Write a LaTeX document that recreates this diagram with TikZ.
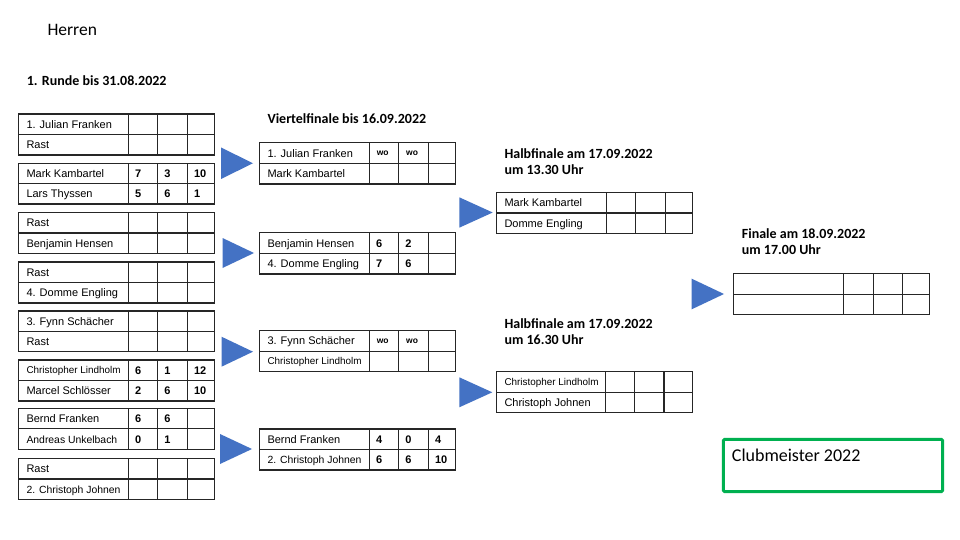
\documentclass[tikz,border=0pt]{standalone}
\usepackage{fontspec}
\setmainfont{Carlito}
\newfontfamily\arial{Liberation Sans}
\definecolor{triblue}{HTML}{4472C4}
\definecolor{clubgreen}{HTML}{00B050}
\definecolor{tabgray}{HTML}{262626}
\tikzset{
  tabline/.style={draw=tabgray, line width=1.2pt},
  nm/.style={anchor=base west, inner sep=0pt, xshift=8pt, yshift=-4pt, font=\arial\fontsize{11}{13}\selectfont},
  nmsmall/.style={nm, font=\arial\fontsize{9.9}{12}\selectfont, yshift=0.5pt},
  nmmid/.style={nm, font=\arial\fontsize{10.4}{12}\selectfont},
  sc/.style={anchor=base west, inner sep=0pt, xshift=6.5pt, yshift=-4pt, font=\arial\bfseries\fontsize{11}{13}\selectfont},
  wo/.style={anchor=base west, inner sep=0pt, xshift=7.3pt, yshift=-2.2pt, font=\arial\bfseries\fontsize{8.5}{10}\selectfont},
  ttl/.style={anchor=base west, inner sep=0pt, font=\bfseries\fontsize{14}{17}\selectfont},
  tri/.style={fill=triblue},
}
% #1 name, #2 left, #3 c1, #4 c2, #5 c3, #6 right, #7 top, #8 bottom
\newcommand\Mtab[8]{%
  \draw[tabline] (#2,#7) rectangle (#6,#8);
  \draw[tabline] (#2,{(#7+#8)/2}) -- (#6,{(#7+#8)/2});
  \draw[tabline] (#3,#7) -- (#3,#8) (#4,#7) -- (#4,#8) (#5,#7) -- (#5,#8);
  \coordinate (#1-1) at (#2,{(3*#7+#8)/4});
  \coordinate (#1-2) at (#2,{(#7+3*#8)/4});
  \coordinate (#1-1a) at (#3,{(3*#7+#8)/4});
  \coordinate (#1-1b) at (#4,{(3*#7+#8)/4});
  \coordinate (#1-1c) at (#5,{(3*#7+#8)/4});
  \coordinate (#1-2a) at (#3,{(#7+3*#8)/4});
  \coordinate (#1-2b) at (#4,{(#7+3*#8)/4});
  \coordinate (#1-2c) at (#5,{(#7+3*#8)/4});
}
% #1 left, #2 top, #3 bottom, #4 tip x
\newcommand\Mtri[4]{%
  \fill[tri] (#1,#2) -- (#4,{(#2+#3)/2}) -- (#1,#3) -- cycle;
}
\begin{document}
\begin{tikzpicture}[x=1pt,y=-1pt]
\useasboundingbox (0,0) rectangle (960,540);
\fill[white] (0,0) rectangle (960,540);

% titles
\node[anchor=base west, inner sep=0pt, font=\fontsize{17.5}{20}\selectfont] (herren) at (47.3,36) {Herren};
\node[ttl] (r1title) at (26.7,85.3) {1. Runde bis 31.08.2022};
\node[ttl] (qftitle) at (267.3,123.4) {Viertelfinale bis 16.09.2022};
\node[ttl] (sf1a) at (504.3,158.3) {Halbfinale am 17.09.2022};
\node[ttl] (sf1b) at (504.3,174.7) {um 13.30 Uhr};
\node[ttl] (sf2a) at (504.3,328) {Halbfinale am 17.09.2022};
\node[ttl] (sf2b) at (504.3,344.3) {um 16.30 Uhr};
\node[ttl] (fa) at (741.7,238) {Finale am 18.09.2022};
\node[ttl] (fb) at (741.7,254.3) {um 17.00 Uhr};

% round 1 tables
\Mtab{t1}{18.3}{128.3}{157.7}{187.3}{214.3}{114}{155}
\Mtab{t2}{18.3}{128.3}{157.7}{187.3}{214.3}{163.3}{204}
\Mtab{t3}{18.3}{128.3}{157.7}{187.3}{214.3}{212.7}{253.3}
\Mtab{t4}{18.3}{128.3}{157.7}{187.3}{214.3}{262}{303}
\Mtab{t5}{18.3}{128.3}{157.7}{187.3}{214.3}{311}{351.7}
\Mtab{t6}{18.3}{128.3}{157.7}{187.3}{214.3}{360}{401}
\Mtab{t7}{18.3}{128.3}{157.7}{187.3}{214.3}{408.3}{449.3}
\Mtab{t8}{18.3}{128.3}{157.7}{187.3}{214.3}{458.7}{499.3}

\node[nm] (t1n1) at (t1-1) {1. Julian Franken};
\node[nm] (t1n2) at (t1-2) {Rast};
\node[nm] (t2n1) at (t2-1) {Mark Kambartel};
\node[nm] (t2n2) at (t2-2) {Lars Thyssen};
\node[sc] (t2s1a) at (t2-1a) {7};
\node[sc] (t2s1b) at (t2-1b) {3};
\node[sc] (t2s1c) at (t2-1c) {10};
\node[sc] (t2s2a) at (t2-2a) {5};
\node[sc] (t2s2b) at (t2-2b) {6};
\node[sc] (t2s2c) at (t2-2c) {1};
\node[nm] (t3n1) at (t3-1) {Rast};
\node[nm] (t3n2) at (t3-2) {Benjamin Hensen};
\node[nm] (t4n1) at (t4-1) {Rast};
\node[nm] (t4n2) at (t4-2) {4. Domme Engling};
\node[nm] (t5n1) at (t5-1) {3. Fynn Schächer};
\node[nm] (t5n2) at (t5-2) {Rast};
\node[nmsmall] (t6n1) at (t6-1) {Christopher Lindholm};
\node[nm] (t6n2) at (t6-2) {Marcel Schlösser};
\node[sc] (t6s1a) at (t6-1a) {6};
\node[sc] (t6s1b) at (t6-1b) {1};
\node[sc] (t6s1c) at (t6-1c) {12};
\node[sc] (t6s2a) at (t6-2a) {2};
\node[sc] (t6s2b) at (t6-2b) {6};
\node[sc] (t6s2c) at (t6-2c) {10};
\node[nm] (t7n1) at (t7-1) {Bernd Franken};
\node[nmmid] (t7n2) at (t7-2) {Andreas Unkelbach};
\node[sc] (t7s1a) at (t7-1a) {6};
\node[sc] (t7s1b) at (t7-1b) {6};
\node[sc] (t7s2a) at (t7-2a) {0};
\node[sc] (t7s2b) at (t7-2b) {1};
\node[nm] (t8n1) at (t8-1) {Rast};
\node[nmmid] (t8n2) at (t8-2) {2. Christoph Johnen};

% arrows to quarterfinals
\Mtri{221}{147.5}{179}{253}
\Mtri{222.5}{238}{268}{254}
\Mtri{221.5}{336.7}{366.7}{253}
\Mtri{220}{434}{464}{252}

% quarterfinal tables
\Mtab{q1}{259.3}{369.3}{398.7}{428.3}{455.7}{142.7}{184}
\Mtab{q2}{259.3}{369.3}{398.7}{428.3}{455.7}{232.7}{274}
\Mtab{q3}{259.3}{369.3}{398.7}{428.3}{455.7}{330.7}{371.7}
\Mtab{q4}{259.3}{369.3}{398.7}{428.3}{455.7}{429}{470}

\node[nm] (q1n1) at (q1-1) {1. Julian Franken};
\node[nm] (q1n2) at (q1-2) {Mark Kambartel};
\node[wo] (q1s1a) at (q1-1a) {wo};
\node[wo] (q1s1b) at (q1-1b) {wo};
\node[nm] (q2n1) at (q2-1) {Benjamin Hensen};
\node[nm] (q2n2) at (q2-2) {4. Domme Engling};
\node[sc] (q2s1a) at (q2-1a) {6};
\node[sc] (q2s1b) at (q2-1b) {2};
\node[sc] (q2s2a) at (q2-2a) {7};
\node[sc] (q2s2b) at (q2-2b) {6};
\node[nm] (q3n1) at (q3-1) {3. Fynn Schächer};
\node[nmsmall] (q3n2) at (q3-2) {Christopher Lindholm};
\node[wo] (q3s1a) at (q3-1a) {wo};
\node[wo] (q3s1b) at (q3-1b) {wo};
\node[nm] (q4n1) at (q4-1) {Bernd Franken};
\node[nmmid] (q4n2) at (q4-2) {2. Christoph Johnen};
\node[sc] (q4s1a) at (q4-1a) {4};
\node[sc] (q4s1b) at (q4-1b) {0};
\node[sc] (q4s1c) at (q4-1c) {4};
\node[sc] (q4s2a) at (q4-2a) {6};
\node[sc] (q4s2b) at (q4-2b) {6};
\node[sc] (q4s2c) at (q4-2c) {10};

% arrows to semifinals
\Mtri{459.3}{197.3}{227.7}{492.7}
\Mtri{459.3}{377.3}{407.3}{492.3}

% semifinal tables
\Mtab{s1}{496.3}{606.3}{635.7}{665.3}{692.3}{192.3}{233.7}
\Mtab{s2}{496.3}{605.7}{634.3}{664}{692.3}{371.7}{412.7}
\node[nm] (s1n1) at (s1-1) {Mark Kambartel};
\node[nm] (s1n2) at (s1-2) {Domme Engling};
\node[nmsmall] (s2n1) at (s2-1) {Christopher Lindholm};
\node[nm] (s2n2) at (s2-2) {Christoph Johnen};

% arrow to final
\Mtri{691.7}{278.7}{309.3}{724}

% final table
\Mtab{f}{733.3}{843.3}{873.3}{902.3}{929.3}{273.7}{314.7}

% Clubmeister box
\draw[draw=clubgreen, line width=3pt, rounded corners=1.5pt] (723.3,439.3) rectangle (942.7,491.7);
\node[anchor=base west, inner sep=0pt, font=\fontsize{18}{21}\selectfont] (club) at (731.7,461) {Clubmeister 2022};
\end{tikzpicture}
\end{document}
